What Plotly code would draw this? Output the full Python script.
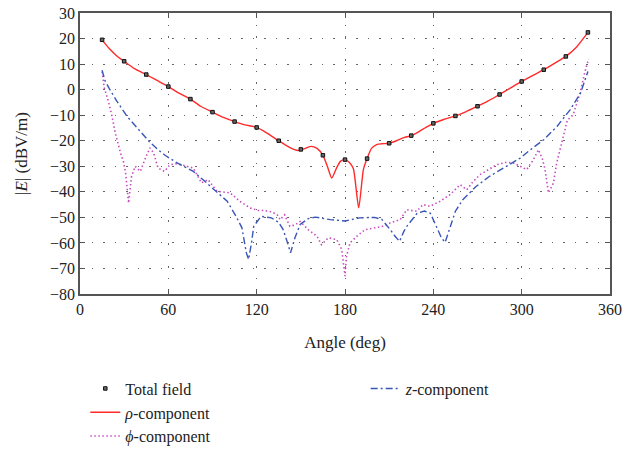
import plotly.graph_objects as go

# Total field markers
total_ang = [15, 30, 45, 60, 75, 90, 105, 120, 135, 150, 165, 180, 195, 210, 225, 240,
             255, 270, 285, 300, 315, 330, 345]
total_val = [19.5, 11.1, 5.9, 1.2, -3.7, -8.8, -12.5, -14.8, -20.0, -23.4, -25.7, -27.4,
             -27.0, -21.0, -18.0, -13.2, -10.3, -6.5, -1.9, 3.2, 7.8, 13.0, 22.4]

# rho-component
rho_ang = [15, 20, 25, 30, 37, 45, 52, 60, 67, 75, 82, 90, 97, 105, 112, 120, 127, 135,
           142, 148, 153, 157, 161, 165, 168, 171, 174, 177, 180, 183, 185.7, 189.3,
           192.5, 195, 198, 201.5, 205, 210, 215, 220, 225, 230, 235, 240, 247, 255,
           262, 270, 277, 285, 292, 300, 307, 315, 322, 330, 337, 345]
rho_val = [19.5, 16.0, 13.2, 11.1, 8.2, 5.9, 3.7, 1.2, -1.3, -3.7, -6.5, -8.8, -10.8,
           -12.5, -13.8, -14.8, -17.0, -20.0, -22.5, -23.8, -23.0, -22.2, -23.0, -25.7,
           -30.0, -34.6, -31.0, -28.0, -27.4, -28.5, -31.0, -46.3, -31.3, -27.0, -23.0,
           -21.5, -21.2, -21.0, -20.0, -18.8, -18.0, -16.5, -14.8, -13.2, -11.7, -10.3,
           -8.7, -6.5, -4.5, -1.9, 0.5, 3.2, 5.4, 7.8, 10.2, 13.0, 16.5, 22.4]

# phi-component
phi_ang = [15, 16.5, 19, 21.5, 24, 26, 27.5, 29.5, 31, 33, 35, 37.5, 41, 44, 47.5, 50,
           53, 57.5, 61, 65, 69, 77, 82.5, 87, 93, 102, 108.5, 115.5, 121, 124.5, 130,
           134, 136, 139, 142.5, 146, 149.5, 155, 161, 164, 168.7, 174.4, 177.8, 180,
           181, 183.4, 188, 193.6, 201.5, 206, 210.6, 217.4, 222, 228.7, 233, 238, 240,
           244.6, 251.4, 258.2, 262.7, 267, 271.7, 277, 283, 289, 294.3, 299, 303.4,
           308, 311.4, 314, 315.9, 318.2, 320, 321.6, 323.8, 326, 328.4, 331, 335,
           339.7, 343, 345.5]
phi_val = [7.0, 0.6, -4.0, -9.8, -17.0, -22.2, -24.8, -28.1, -32.6, -44.4, -34.0, -30.0,
           -32.0, -27.4, -22.8, -24.8, -30.7, -32.0, -29.4, -29.0, -29.4, -30.7, -36.5,
           -35.2, -39.8, -40.4, -43.7, -46.3, -47.3, -47.3, -47.8, -49.0, -50.9, -49.0,
           -53.5, -53.0, -51.6, -54.8, -57.4, -60.7, -58.0, -58.7, -62.6, -73.0, -65.3,
           -60.0, -57.4, -54.8, -54.1, -53.5, -52.2, -50.9, -47.0, -47.6, -45.0, -45.7,
           -45.0, -43.7, -41.1, -37.2, -39.2, -36.0, -33.3, -31.5, -29.4, -28.5, -28.7,
           -30.0, -31.3, -27.4, -23.5, -27.0, -31.3, -40.4, -38.0, -36.5, -28.7, -23.5,
           -17.0, -12.0, -9.8, -1.3, 7.1, 12.0]

# z-component
z_ang = [15, 17, 20, 25, 32, 41, 47, 53, 58, 66, 77, 84, 91, 100, 106, 110, 113, 114.5,
         116.5, 118, 123, 130, 135, 138, 141, 143, 146, 149.5, 155, 160, 170, 180, 190,
         200, 205, 208, 211, 214, 217, 220, 222, 229, 234, 238, 242, 245.5, 248, 251.5,
         255, 260, 269, 278, 290, 299, 306, 315, 324, 333, 340, 344, 345]
z_val = [7.6, 3.5, 0.3, -4.5, -10.5, -16.3, -20.3, -23.5, -25.8, -28.7, -32.0, -35.5,
         -39.2, -43.7, -49.6, -54.1, -63.9, -66.5, -60.0, -53.5, -49.6, -50.2, -52.0,
         -54.8, -60.0, -63.9, -58.0, -52.8, -50.5, -49.9, -50.9, -51.4, -50.2, -50.0,
         -50.8, -52.8, -55.0, -57.4, -59.4, -55.5, -53.5, -48.4, -47.5, -48.4, -53.5,
         -58.0, -59.8, -54.0, -47.6, -43.1, -37.9, -34.0, -30.0, -26.8, -23.5, -19.6,
         -14.4, -7.8, -1.3, 5.9, 7.1]

x_ticks = [0, 60, 120, 180, 240, 300, 360]
y_ticks = list(range(-80, 31, 10))

FONT = "Liberation Serif"

fig = go.Figure()
fig.add_trace(go.Scatter(x=phi_ang, y=phi_val, mode="lines", name="<i>ϕ</i>-component",
                         line=dict(color="#c84cc0", width=1.6, dash="1.5px,2.5px"),
                         legend="legend", legendrank=3))
fig.add_trace(go.Scatter(x=z_ang, y=z_val, mode="lines", name="<i>z</i>-component",
                         line=dict(color="#3a55b8", width=1.4, dash="7px,3px,2px,3px"),
                         legend="legend2"))
fig.add_trace(go.Scatter(x=rho_ang, y=rho_val, mode="lines", name="<i>ρ</i>-component",
                         line=dict(color="#ff2a2a", width=1.4, shape="spline", smoothing=0.6),
                         legend="legend", legendrank=2))
fig.add_trace(go.Scatter(x=total_ang, y=total_val, mode="markers", name="Total field",
                         marker=dict(symbol="square", size=3.5, color="#666666",
                                     line=dict(color="#111111", width=1)),
                         legend="legend", legendrank=1))

axis_common = dict(
    showline=True, linecolor="#555555", linewidth=1.5, mirror="ticks",
    ticks="inside", ticklen=5, tickcolor="#555555", tickwidth=1.2,
    showgrid=True, gridcolor="#666666", gridwidth=1, griddash="1.5px,10px",
    zeroline=False, automargin=False, ticklabeloverflow="allow",
    tickfont=dict(family=FONT, size=16, color="#222222"),
)

fig.update_xaxes(range=[0, 360], tickvals=x_ticks,
                 title=dict(text="Angle (deg)", font=dict(family=FONT, size=17, color="#222222"),
                            standoff=19),
                 **axis_common)
fig.update_yaxes(range=[-80, 30], tickvals=y_ticks,
                 title=dict(text="|<i>E</i>| (dBV/m)", font=dict(family=FONT, size=17, color="#222222"),
                            standoff=18),
                 **axis_common)

# plot area on screen: x 80..610, y 13..294
fig.update_layout(
    width=626, height=460,
    margin=dict(l=80, r=16, t=13, b=166, autoexpand=False),
    plot_bgcolor="white", paper_bgcolor="white",
    font=dict(family=FONT, size=16, color="#222222"),
    legend=dict(x=0.01, y=-0.276, xanchor="left", yanchor="top", orientation="v",
                font=dict(family=FONT, size=16, color="#222222"),
                bgcolor="rgba(0,0,0,0)", tracegroupgap=0),
    legend2=dict(x=0.539, y=-0.276, xanchor="left", yanchor="top", orientation="v",
                 font=dict(family=FONT, size=16, color="#222222"),
                 bgcolor="rgba(0,0,0,0)"),
)

fig.write_html("out.html", config={"displayModeBar": False},
               post_script="document.body.style.margin='0';document.body.style.overflow='hidden';")
